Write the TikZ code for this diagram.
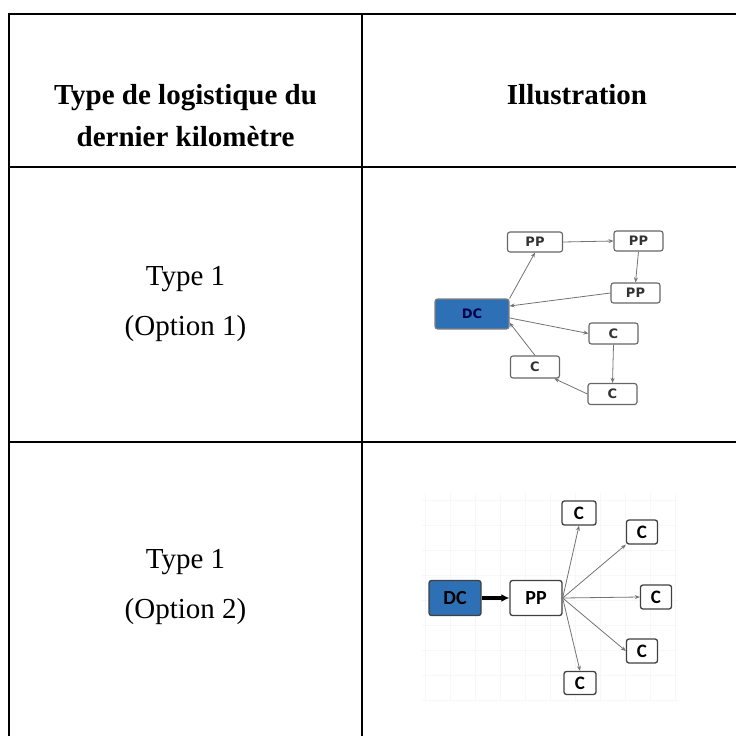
\documentclass[tikz,border=0pt]{standalone}
\usepackage{fontspec}
\setmainfont{Liberation Serif}
\newfontfamily\schemafont{DejaVu Sans}
\newfontfamily\schemafontb{Carlito}
\usetikzlibrary{arrows.meta}
\definecolor{dcbleu}{RGB}{46,112,182}
\tikzset{
    every node/.style={inner sep=0pt},
    trait/.style={line width=2pt},
    boite/.style={draw=black!60, line width=1.1pt, rounded corners=2.5pt, fill=white,
        font=\schemafont\bfseries\fontsize{13}{13}\selectfont, text=black!80},
    boiteb/.style={draw=black!75, line width=1.3pt, rounded corners=2.5pt, fill=white,
        font=\schemafontb\bfseries\fontsize{20}{20}\selectfont},
    boitec/.style={boiteb, font=\schemafontb\bfseries\fontsize{19}{19}\selectfont, minimum width=32pt, minimum height=24pt},
    lien/.style={-{Stealth[length=5pt,width=4pt]}, draw=black!55, line width=0.8pt},
}

\begin{document}
\begin{tikzpicture}[x=1pt, y=-1pt]
    \useasboundingbox (0,0) rectangle (736,736);

    % tableau
    \draw [trait] (8,14) -- (736,14);
    \draw [trait] (8,167) -- (736,167);
    \draw [trait] (8,442) -- (736,442);
    \draw [trait] (9,13) -- (9,736);
    \draw [trait] (362,13) -- (362,736);

    \node [align=center, font=\bfseries\fontsize{29}{42}\selectfont] (entete1) at (185.5,116) {Type de logistique du\\dernier kilomètre};
    \node [font=\bfseries\fontsize{29}{42}\selectfont] (entete2) at (577,95) {Illustration};
    \node [align=center, font=\fontsize{29}{50}\selectfont] (type1a) at (185.5,304) {Type 1\\(Option 1)};
    \node [align=center, font=\fontsize{29}{50}\selectfont] (type1b) at (185.5,587) {Type 1\\(Option 2)};

    % option 1
    \node [boite, fill=dcbleu, draw=black!50, text=black!70!blue, minimum width=74pt, minimum height=30pt] (dc1) at (472,314) {DC};
    \node [boite, minimum width=55pt, minimum height=20pt] (ppa) at (535,242) {PP};
    \node [boite, minimum width=49pt, minimum height=20pt] (ppb) at (638.5,241) {PP};
    \node [boite, minimum width=49pt, minimum height=20pt] (ppc) at (635.5,293) {PP};
    \node [boite, minimum width=49pt, minimum height=21pt] (ca) at (613.5,333.5) {C};
    \node [boite, minimum width=49pt, minimum height=21pt] (cb) at (612.5,394) {C};
    \node [boite, minimum width=49pt, minimum height=22pt] (cc) at (535,367) {C};

    \draw [lien] (dc1.north east) -- (ppa.south);
    \draw [lien] (ppa.east) -- (ppb.west);
    \draw [lien] (ppb.south) -- (ppc.north);
    \draw [lien] (ppc.west) -- (dc1.12);
    \draw [lien] (dc1.-6) -- (ca.west);
    \draw [lien] (ca.south) -- (cb.north);
    \draw [lien] (cb.west) -- (cc.-31);
    \draw [lien] (cc.north) -- (dc1.-13);

    % option 2
    \draw [black!3, line width=0.6pt, step=25pt] (422,493) grid (678,700);
    \node [boiteb, fill=dcbleu, minimum width=52pt, minimum height=35pt] (dc2) at (455,598) {DC};
    \node [boiteb, minimum width=52pt, minimum height=35pt] (pp2) at (536,598) {PP};
    \node [boitec, minimum width=34pt] (c1) at (579,513) {C};
    \node [boitec, minimum width=31pt] (c2) at (642,532) {C};
    \node [boitec, minimum width=31pt] (c3) at (656,597) {C};
    \node [boitec, minimum width=31pt] (c4) at (642,651) {C};
    \node [boitec, minimum height=23pt] (c5) at (580,683) {C};

    \draw [-{Latex[length=8pt,width=8pt]}, line width=3.2pt] (dc2.east) -- (pp2.west);
    \foreach \c/\a in {c1/south, c2/south west, c3/west, c4/west, c5/north}
        \draw [lien] (pp2.east) -- (\c.\a);
\end{tikzpicture}
\end{document}
